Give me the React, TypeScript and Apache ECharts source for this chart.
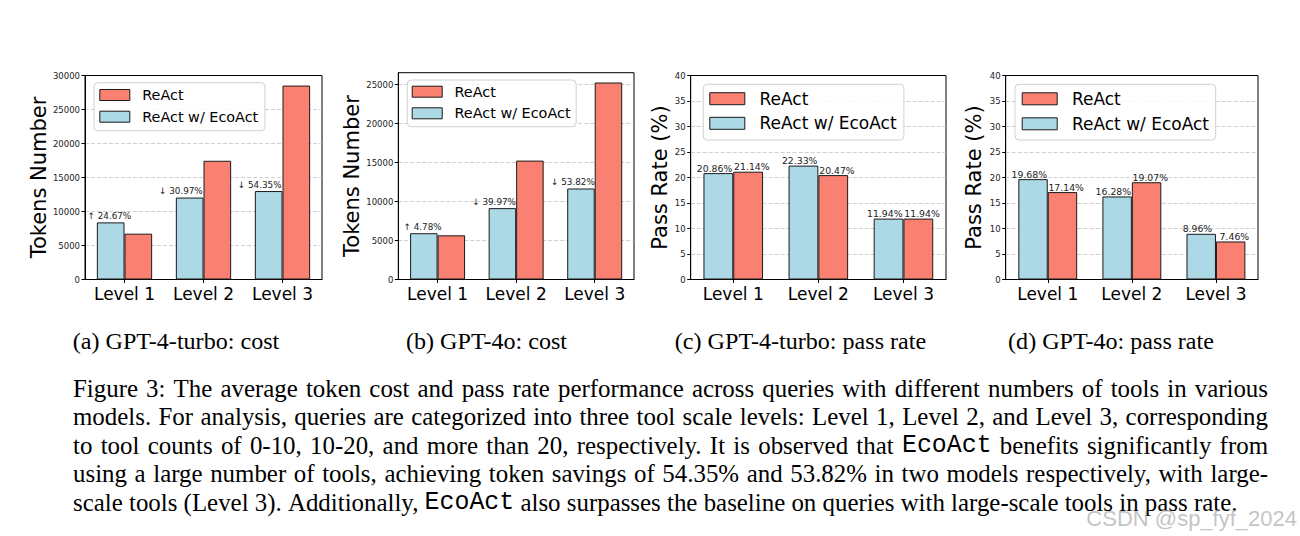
import React, { useEffect, useRef } from "react";
import * as echarts from "echarts";

// ---------- data ----------
const LEVELS = ["Level 1", "Level 2", "Level 3"];
const NAME_REACT = "ReAct";
const NAME_ECO = "ReAct w/ EcoAct";

const TURBO_COST_ECOACT = [8400, 12050, 13010];
const TURBO_COST_REACT = [6740, 17460, 28520];
const TURBO_COST_NOTES = ["↑ 24.67%", "↓ 30.97%", "↓ 54.35%"];

const GPT4O_COST_ECOACT = [5940, 9160, 11680];
const GPT4O_COST_REACT = [5670, 15260, 25280];
const GPT4O_COST_NOTES = ["↑ 4.78%", "↓ 39.97%", "↓ 53.82%"];

const TURBO_PASS_ECOACT = [20.86, 22.33, 11.94];
const TURBO_PASS_REACT = [21.14, 20.47, 11.94];
const GPT4O_PASS_ECOACT = [19.68, 16.28, 8.96];
const GPT4O_PASS_REACT = [17.14, 19.07, 7.46];

const SUB_CAPTIONS = [
  "(a) GPT-4-turbo: cost",
  "(b) GPT-4o: cost",
  "(c) GPT-4-turbo: pass rate",
  "(d) GPT-4o: pass rate",
];

const CAPTION_LINES = [
  "Figure 3: The average token cost and pass rate performance across queries with different numbers of tools in various",
  "models. For analysis, queries are categorized into three tool scale levels: Level 1, Level 2, and Level 3, corresponding",
  "to tool counts of 0-10, 10-20, and more than 20, respectively. It is observed that EcoAct benefits significantly from",
  "using a large number of tools, achieving token savings of 54.35% and 53.82% in two models respectively, with large-",
  "scale tools (Level 3). Additionally, EcoAct also surpasses the baseline on queries with large-scale tools in pass rate.",
];
const MONO_WORDS = ["EcoAct"];
const WATERMARK = "CSDN @sp_fyf_2024";

// ---------- style / layout ----------
const C_ECO = "#ADD8E6";
const C_REACT = "#FA8072";
const SANS = "DejaVu Sans";
const SERIF = "Liberation Serif";
const MONO = "Liberation Mono";

type Panel = {
  grid: { left: number; top: number; width: number; height: number };
  eco: number[];
  react: number[];
  yMax: number;
  yInterval: number;
  showMax: boolean;
  yName: string;
  nameGap: number;
  notes?: string[];
  noteOffsets?: number[];
  legend: {
    left: number;
    top: number;
    padding: number[];
    itemGap: number;
    itemWidth: number;
    itemHeight: number;
    fontSize: number;
    textPad: number;
  };
};

const PANELS: Panel[] = [
  {
    grid: { left: 85, top: 75.5, width: 237, height: 204 },
    eco: TURBO_COST_ECOACT,
    react: TURBO_COST_REACT,
    yMax: 30000,
    yInterval: 5000,
    showMax: true,
    yName: "Tokens Number",
    nameGap: 34,
    notes: TURBO_COST_NOTES,
    noteOffsets: [-1.3, -8.8, -9],
    legend: { left: 94, top: 82.7, padding: [5.1, 6.7, 6.8, 5.3], itemGap: 7.3, itemWidth: 30, itemHeight: 11, fontSize: 14.4, textPad: 7.4 },
  },
  {
    grid: { left: 398.3, top: 72.7, width: 235.7, height: 206.8 },
    eco: GPT4O_COST_ECOACT,
    react: GPT4O_COST_REACT,
    yMax: 26540,
    yInterval: 5000,
    showMax: false,
    yName: "Tokens Number",
    nameGap: 36,
    notes: GPT4O_COST_NOTES,
    noteOffsets: [-1.3, -8.3, -8],
    legend: { left: 407.3, top: 80, padding: [4.5, 5.6, 6.2, 4.4], itemGap: 7.2, itemWidth: 30, itemHeight: 11, fontSize: 14.4, textPad: 7.3 },
  },
  {
    grid: { left: 690.7, top: 75.5, width: 255.3, height: 204 },
    eco: TURBO_PASS_ECOACT,
    react: TURBO_PASS_REACT,
    yMax: 40,
    yInterval: 5,
    showMax: true,
    yName: "Pass Rate (%)",
    nameGap: 17.4,
    legend: { left: 703.3, top: 84.3, padding: [5.9, 7.3, 8.2, 6], itemGap: 7.6, itemWidth: 35, itemHeight: 12, fontSize: 17, textPad: 9.7 },
  },
  {
    grid: { left: 1005.7, top: 75.5, width: 252.3, height: 204 },
    eco: GPT4O_PASS_ECOACT,
    react: GPT4O_PASS_REACT,
    yMax: 40,
    yInterval: 5,
    showMax: true,
    yName: "Pass Rate (%)",
    nameGap: 20.8,
    legend: { left: 1015, top: 84.3, padding: [6, 6.7, 7.7, 6.7], itemGap: 8, itemWidth: 35, itemHeight: 12, fontSize: 17, textPad: 9.7 },
  },
];

const SUB_CAPTION_X = [176, 486.5, 800.5, 1111];
const SUB_CAPTION_Y = 341;
const SUB_CAP_FONT = 24.1;
const CAP_FONT = 24.9;
const CAP_LEFT = 73;
const CAP_RIGHT = 1268;
const CAP_Y0 = 388;
const CAP_DY = 28.5;

function buildCaptionGraphics(): any[] {
  const canvas = document.createElement("canvas");
  const ctx = canvas.getContext("2d")!;
  const serifFont = `${CAP_FONT}px "${SERIF}"`;
  const monoFont = `${CAP_FONT}px "${MONO}"`;
  const out: any[] = [];
  CAPTION_LINES.forEach((line, li) => {
    const words = line.split(" ");
    const widths = words.map((w) => {
      ctx.font = MONO_WORDS.includes(w) ? monoFont : serifFont;
      return ctx.measureText(w).width;
    });
    ctx.font = serifFont;
    const natSpace = ctx.measureText(" ").width;
    const total = widths.reduce((a, b) => a + b, 0);
    const justify = li < CAPTION_LINES.length - 1;
    const space = justify ? (CAP_RIGHT - CAP_LEFT - total) / (words.length - 1) : natSpace;
    let x = CAP_LEFT;
    const y = CAP_Y0 + li * CAP_DY;
    words.forEach((w, wi) => {
      const mono = MONO_WORDS.includes(w);
      out.push({
        type: "text",
        x,
        y,
        silent: true,
        style: {
          text: w,
          fontSize: CAP_FONT,
          fontFamily: mono ? MONO : SERIF,
          fill: "#000",
          textAlign: "left",
          align: "left",
          textVerticalAlign: "middle",
          verticalAlign: "middle",
        },
      });
      x += widths[wi] + space;
    });
  });
  return out;
}

function buildOption(): any {
  const grid: any[] = [];
  const xAxis: any[] = [];
  const yAxis: any[] = [];
  const series: any[] = [];
  const legend: any[] = [];

  PANELS.forEach((p, i) => {
    grid.push({
      ...p.grid,
      show: true,
      borderColor: "#000",
      borderWidth: 1,
      backgroundColor: "transparent",
      containLabel: false,
    });
    xAxis.push({
      gridIndex: i,
      type: "category",
      data: LEVELS,
      boundaryGap: true,
      axisLine: { show: true, lineStyle: { color: "#000", width: 1 } },
      axisTick: { show: true, alignWithLabel: true, length: 3.5, lineStyle: { color: "#000" } },
      axisLabel: { fontSize: 17, color: "#000", margin: 6, fontFamily: SANS, interval: 0, hideOverlap: false },
      splitLine: { show: false },
    });
    yAxis.push({
      gridIndex: i,
      type: "value",
      min: 0,
      max: p.yMax,
      interval: p.yInterval,
      name: p.yName,
      nameLocation: "middle",
      nameGap: p.nameGap,
      nameTextStyle: { fontSize: 21, color: "#000", fontFamily: SANS },
      axisLine: { show: true, lineStyle: { color: "#000", width: 1 } },
      axisTick: { show: true, length: 3.5, lineStyle: { color: "#000" } },
      axisLabel: {
        fontSize: 8.5,
        color: "#222",
        margin: 5,
        fontFamily: SANS,
        showMaxLabel: p.showMax,
        formatter: (v: number) => String(v),
      },
      splitLine: {
        show: true,
        showMinLine: false,
        showMaxLine: false,
        lineStyle: { color: "#c4c4c4", type: [4, 2], width: 0.8 },
      },
    });

    const isCost = !!p.notes;
    const ecoData = p.eco.map((v, k) =>
      isCost ? { value: v, label: { offset: [p.noteOffsets![k], 0] } } : v
    );
    series.push({
      type: "bar",
      name: NAME_ECO,
      xAxisIndex: i,
      yAxisIndex: i,
      data: ecoData,
      barGap: "0%",
      barCategoryGap: "30%",
      itemStyle: { color: C_ECO, borderColor: "#1a1a1a", borderWidth: 1 },
      label: isCost
        ? {
            show: true,
            position: "top",
            distance: 2,
            fontSize: 8.8,
            color: "#222",
            fontFamily: SANS,
            formatter: (prm: any) => p.notes![prm.dataIndex],
          }
        : {
            show: true,
            position: "top",
            distance: 0.5,
            fontSize: 9.3,
            color: "#222",
            fontFamily: SANS,
            offset: [-3.8, 0],
            formatter: (prm: any) => `${Number(prm.value).toFixed(2)}%`,
          },
    });
    series.push({
      type: "bar",
      name: NAME_REACT,
      xAxisIndex: i,
      yAxisIndex: i,
      data: p.react,
      barGap: "0%",
      barCategoryGap: "30%",
      itemStyle: { color: C_REACT, borderColor: "#1a1a1a", borderWidth: 1 },
      label: isCost
        ? { show: false }
        : {
            show: true,
            position: "top",
            distance: 0.5,
            fontSize: 9.3,
            color: "#222",
            fontFamily: SANS,
            offset: [3.7, 0],
            formatter: (prm: any) => `${Number(prm.value).toFixed(2)}%`,
          },
    });

    const L = p.legend;
    legend.push({
      data: [NAME_REACT, NAME_ECO],
      orient: "vertical",
      left: L.left,
      top: L.top,
      padding: L.padding,
      itemGap: L.itemGap,
      itemWidth: L.itemWidth,
      itemHeight: L.itemHeight,
      icon: "rect",
      selectedMode: false,
      backgroundColor: "rgba(255,255,255,0.85)",
      borderColor: "#d0d0d0",
      borderWidth: 1,
      borderRadius: 4,
      itemStyle: { borderColor: "#1a1a1a", borderWidth: 1 },
      textStyle: {
        fontSize: L.fontSize,
        lineHeight: L.fontSize,
        color: "#000",
        fontFamily: SANS,
        padding: [0, 0, 0, L.textPad],
      },
    });
  });

  const graphics: any[] = [];
  SUB_CAPTIONS.forEach((t, i) => {
    graphics.push({
      type: "text",
      x: SUB_CAPTION_X[i],
      y: SUB_CAPTION_Y,
      silent: true,
      style: {
        text: t,
        fontSize: SUB_CAP_FONT,
        fontFamily: SERIF,
        fill: "#000",
        textAlign: "center",
        align: "center",
        textVerticalAlign: "middle",
        verticalAlign: "middle",
      },
    });
  });
  graphics.push(...buildCaptionGraphics());
  graphics.push({
    type: "text",
    x: 1297,
    y: 518,
    silent: true,
    z: 100,
    style: {
      text: WATERMARK,
      fontSize: 22,
      fontFamily: "Liberation Sans",
      fill: "rgba(170,170,170,0.7)",
      textAlign: "right",
      align: "right",
      textVerticalAlign: "middle",
      verticalAlign: "middle",
    },
  });

  return {
    animation: false,
    backgroundColor: "#fff",
    textStyle: { fontFamily: SANS },
    grid,
    xAxis,
    yAxis,
    series,
    legend,
    graphic: { elements: graphics },
  };
}

export default function App() {
  const ref = useRef<HTMLDivElement>(null);
  useEffect(() => {
    if (!ref.current) return;
    const chart = echarts.init(ref.current, undefined, { renderer: "svg" });
    chart.setOption(buildOption());
    return () => chart.dispose();
  }, []);
  return (
    <div
      ref={ref}
      style={{ position: "absolute", left: 0, top: 0, width: 1300, height: 536 }}
    />
  );
}
